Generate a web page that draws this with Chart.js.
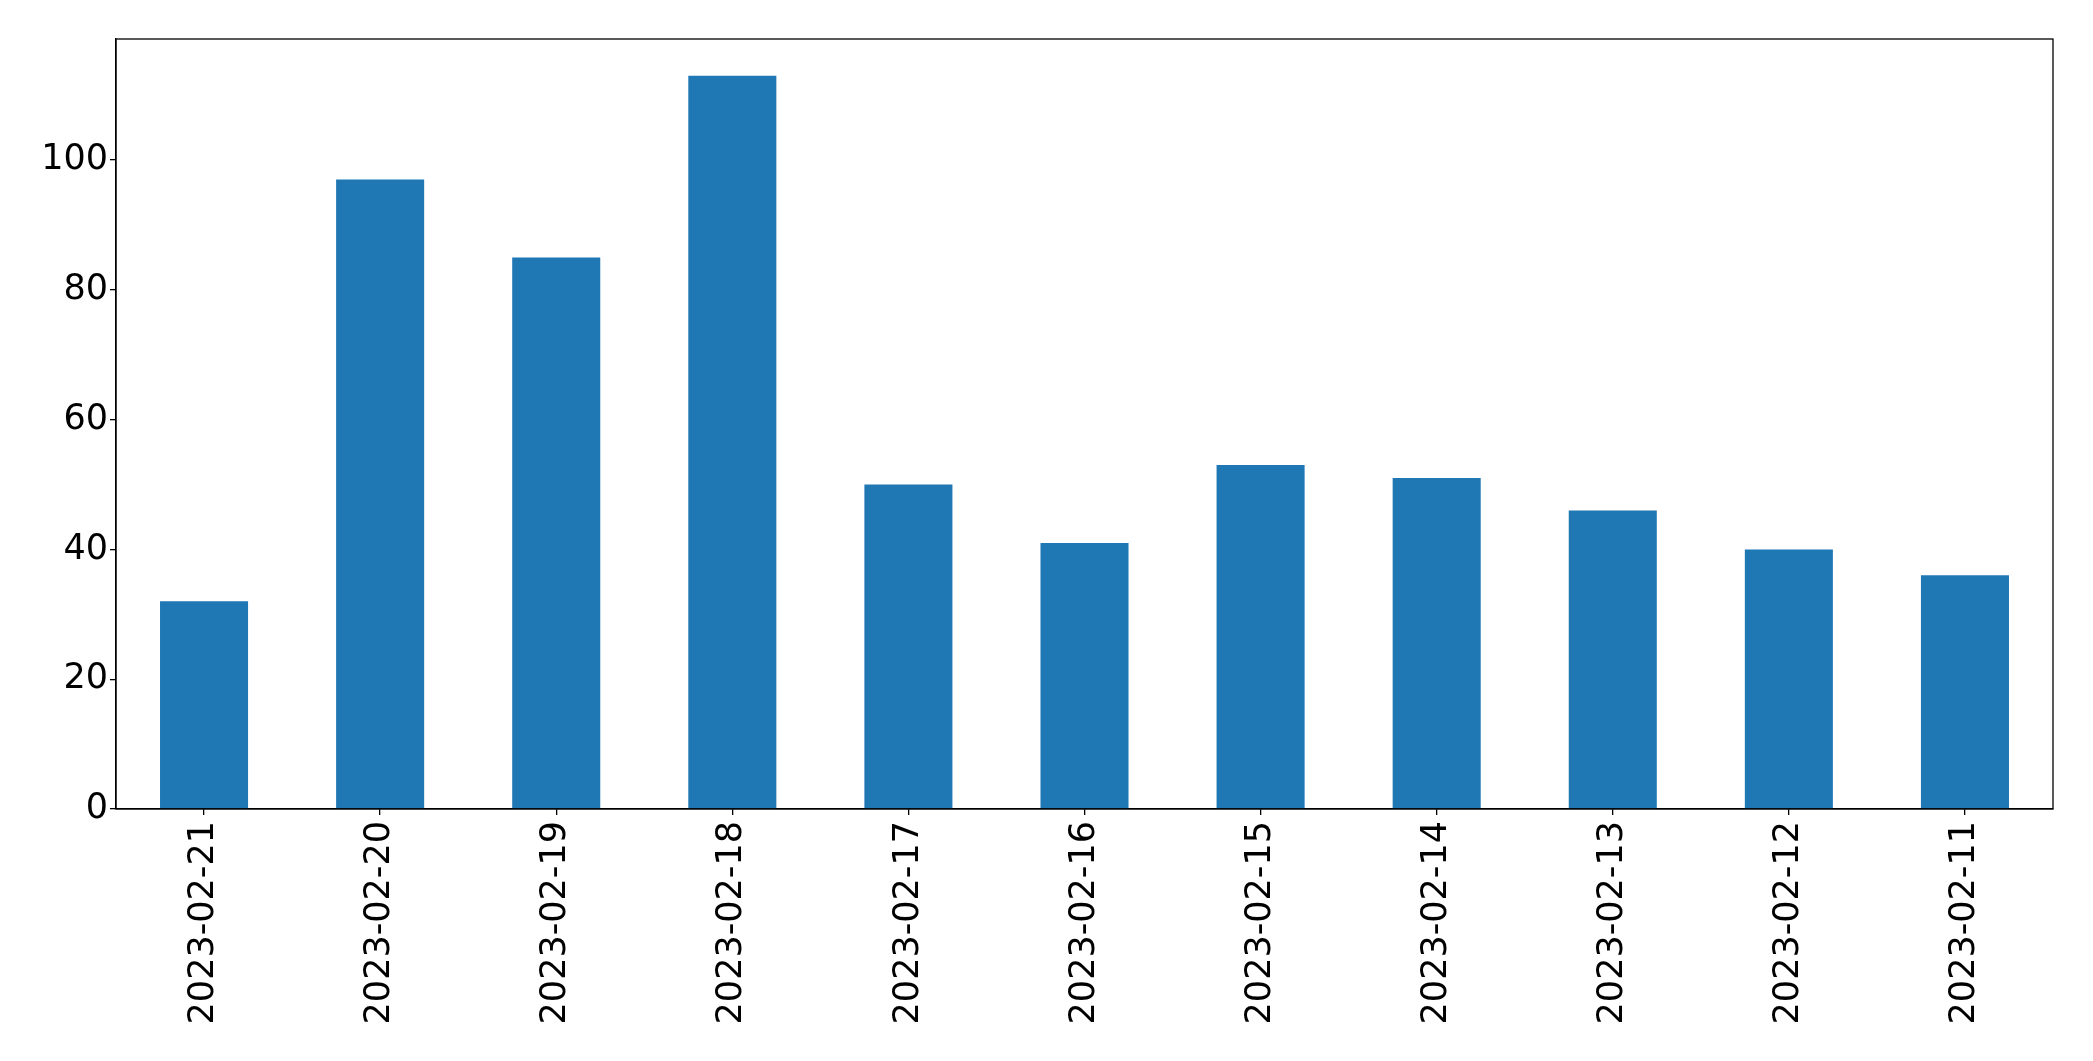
<!DOCTYPE html>
<html>
<head>
<meta charset="utf-8">
<script src="https://cdn.jsdelivr.net/npm/chart.js@4"></script>
<style>
  body { margin: 0; background: #fff; }
</style>
</head>
<body>
<canvas id="chart" width="2093" height="1061"></canvas>
<script>
var dates = ['2023-02-21', '2023-02-20', '2023-02-19', '2023-02-18', '2023-02-17', '2023-02-16',
             '2023-02-15', '2023-02-14', '2023-02-13', '2023-02-12', '2023-02-11'];
var counts = [32, 97, 85, 113, 50, 41, 53, 51, 46, 40, 36];
var yTicks = [0, 20, 40, 60, 80, 100];

// top and right spines, like the matplotlib frame
var frame = {
    id: 'frame',
    afterDraw: function (chart) {
        var a = chart.chartArea, ctx = chart.ctx;
        ctx.save();
        ctx.strokeStyle = '#000';
        ctx.lineWidth = 1.3;
        ctx.strokeRect(a.left, a.top, a.right - a.left, a.bottom - a.top);
        ctx.restore();
    }
};

var ctx = document.getElementById('chart').getContext('2d');
var chart = new Chart(ctx, {
    type: 'bar',
    data: {
        labels: dates,
        datasets: [{
            data: counts,
            backgroundColor: '#1f77b4',
            borderWidth: 0,
            categoryPercentage: 0.5,
            barPercentage: 1
        }]
    },
    options: {
        responsive: false,
        animation: false,
        layout: { padding: { top: 39, right: 40, left: 0, bottom: 0 } },
        plugins: {
            legend: { display: false },
            title: { display: false },
            tooltip: { enabled: false }
        },
        scales: {
            x: {
                offset: true,
                grid: { display: true, offset: false, drawOnChartArea: false, tickLength: 6, color: '#000', lineWidth: 1.3 },
                border: { display: true, color: '#000', width: 1.3 },
                ticks: {
                    color: '#000',
                    font: { family: 'DejaVu Sans', size: 35 },
                    minRotation: 90,
                    maxRotation: 90,
                    autoSkip: false,
                    padding: 6
                },
                afterFit: function (scale) { scale.height = 252; }
            },
            y: {
                min: 0,
                max: 118.65,
                grid: { display: true, drawOnChartArea: false, tickLength: 6, color: '#000', lineWidth: 1.3 },
                border: { display: true, color: '#000', width: 1.3 },
                ticks: {
                    color: '#000',
                    font: { family: 'DejaVu Sans', size: 35 },
                    padding: 2
                },
                afterBuildTicks: function (scale) {
                    scale.ticks = yTicks.map(function (v) { return { value: v }; });
                },
                afterFit: function (scale) { scale.width = 116; }
            }
        }
    },
    plugins: [frame]
});
</script>
</body>
</html>
